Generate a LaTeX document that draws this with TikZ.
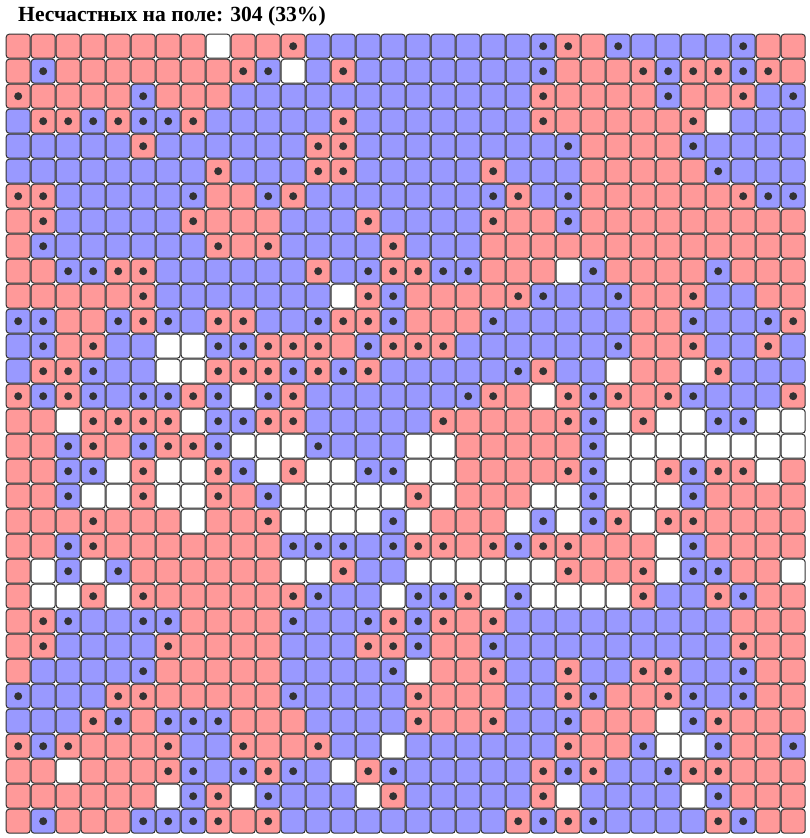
\documentclass[tikz,border=0pt]{standalone}
\usepackage{fontspec}
\setmainfont{Liberation Serif}
\usepackage{tikz}

\definecolor{redc}{HTML}{FF9999}
\definecolor{bluec}{HTML}{9999FF}
\definecolor{gridc}{HTML}{333333}

\begin{document}
\begin{tikzpicture}[
        x=1pt,y=-1pt,
        headline/.style={anchor=base west,inner sep=0pt,font=\bfseries\fontsize{21.6}{26}\selectfont},
        cell/.style={rectangle,draw=gridc,line width=1pt,rounded corners=3pt,minimum size=24pt,inner sep=0pt},
        unhappy/.style={path picture={\fill[gridc] (path picture bounding box.center) circle (4pt);}},
        cell r/.style={cell,fill=redc},
        cell b/.style={cell,fill=bluec},
        cell w/.style={cell,fill=white},
        cell R/.style={cell r,unhappy},
        cell B/.style={cell b,unhappy}
    ]
        \useasboundingbox (0,0) rectangle (809,838);
        \node[headline] (count) at (18,21) {Несчастных на поле: 304 (33\%)};

        % r/b = happy agent, R/B = unhappy agent, w = empty cell
        \foreach \row [count=\j from 0] in {
            {r,r,r,r,r,r,r,r,w,r,r,R,b,b,b,b,b,b,b,b,b,B,R,r,B,b,b,b,b,B,r,r},
            {r,B,r,r,r,r,r,r,r,R,B,w,b,R,b,b,b,b,b,b,b,B,r,r,r,R,B,R,R,B,R,r},
            {R,r,r,r,r,B,r,r,r,b,b,b,b,b,b,b,b,b,b,b,b,R,r,r,r,r,B,r,r,R,b,B},
            {b,R,R,B,R,B,B,R,b,b,b,b,b,R,b,b,b,b,b,b,b,R,r,r,r,r,r,R,w,b,b,b},
            {b,b,b,b,b,R,b,b,b,b,b,b,R,R,b,b,b,b,b,b,b,b,B,r,r,r,r,B,b,b,b,b},
            {b,b,b,b,b,b,b,b,R,b,b,b,R,R,b,b,b,b,b,R,b,b,b,r,r,r,r,r,B,b,b,b},
            {R,R,b,b,b,b,b,B,r,r,B,R,b,b,b,b,b,b,b,B,R,b,B,r,r,r,r,r,r,R,B,B},
            {r,R,b,b,b,b,b,R,r,r,r,b,b,b,R,b,b,b,b,R,r,r,B,r,r,r,r,r,r,r,r,r},
            {r,B,b,b,b,b,b,b,R,r,R,b,b,b,b,R,b,b,b,r,r,r,r,r,r,r,r,r,r,r,r,r},
            {r,r,B,B,R,R,b,b,b,b,b,b,R,b,B,R,R,B,B,r,r,r,w,B,r,r,r,r,B,r,r,r},
            {r,r,r,r,r,R,b,b,b,b,b,b,b,w,R,B,r,r,r,r,R,B,b,b,B,r,r,R,b,b,r,r},
            {B,B,r,r,B,R,B,b,R,R,b,b,B,R,R,B,r,r,r,B,b,b,b,b,b,r,r,B,b,b,B,R},
            {b,B,r,R,b,b,w,w,B,B,R,R,R,r,B,R,R,R,b,b,b,b,b,b,B,r,r,R,b,b,R,b},
            {b,R,R,B,b,b,w,w,R,R,R,B,R,B,R,b,b,b,b,b,B,R,b,b,w,r,r,w,R,b,b,b},
            {R,B,R,B,b,B,B,R,B,w,B,R,b,b,b,b,b,b,B,R,r,w,R,B,R,r,R,B,b,b,b,R},
            {r,r,w,R,R,R,R,w,B,B,R,R,b,b,b,b,b,R,r,r,r,r,R,B,w,R,w,w,B,B,w,w},
            {r,r,B,R,r,B,R,R,B,w,w,w,B,b,b,b,w,w,r,r,r,r,r,B,w,w,w,w,w,w,w,w},
            {r,r,B,B,w,R,w,w,R,B,w,R,w,w,B,B,w,w,r,r,r,r,R,B,w,w,R,B,R,R,w,r},
            {r,r,B,w,w,R,w,w,R,r,B,w,w,w,w,w,R,w,r,r,r,w,w,B,w,w,w,B,r,r,r,r},
            {r,r,r,R,r,r,r,w,r,r,R,w,w,w,w,B,w,r,r,r,w,B,w,B,R,w,R,R,r,r,r,r},
            {r,r,B,R,r,r,r,r,r,r,r,B,B,B,b,B,R,R,r,R,B,R,R,r,r,r,w,B,r,r,r,r},
            {r,w,B,w,B,r,r,r,r,r,r,w,w,R,b,b,w,w,w,w,w,w,R,r,r,R,w,B,B,r,r,w},
            {r,w,w,R,w,R,r,r,r,r,r,R,B,b,b,w,B,B,R,w,B,w,w,w,w,R,b,b,R,B,r,r},
            {r,R,B,b,b,B,B,r,r,r,r,B,b,b,B,R,B,R,r,R,b,b,b,b,b,b,b,b,b,r,r,r},
            {r,R,b,b,b,b,R,r,r,r,r,b,b,b,R,R,B,r,r,B,b,b,b,b,b,b,b,b,b,R,r,r},
            {r,b,b,b,b,B,r,r,r,r,r,b,b,b,b,B,w,r,r,R,b,b,R,b,b,R,R,b,b,B,r,r},
            {B,b,b,b,R,R,r,r,r,r,r,B,b,b,b,b,R,r,r,r,b,b,R,B,r,r,R,B,b,B,r,r},
            {b,b,b,R,B,r,B,B,B,r,r,r,b,b,b,b,R,r,r,R,b,b,B,r,r,r,w,B,R,r,r,r},
            {R,B,R,r,r,r,R,b,b,R,r,r,R,b,b,w,b,b,b,b,b,b,R,r,r,B,w,w,B,r,r,B},
            {r,r,w,r,r,r,R,B,b,B,R,B,b,w,R,B,b,b,b,b,b,R,B,R,b,b,B,R,R,r,r,r},
            {r,r,r,r,r,r,w,B,R,w,B,b,b,b,w,R,b,b,b,b,b,R,w,b,b,b,b,w,B,r,r,r},
            {r,B,r,r,r,B,B,B,R,r,R,b,b,b,b,b,b,b,b,b,R,B,R,B,b,b,b,b,R,B,r,r}}{
            \foreach \t [count=\i from 0] in \row
                \node[cell \t] (c\j-\i) at (18.2+25*\i,46.2+25*\j) {};
        }
    \end{tikzpicture}
\end{document}
